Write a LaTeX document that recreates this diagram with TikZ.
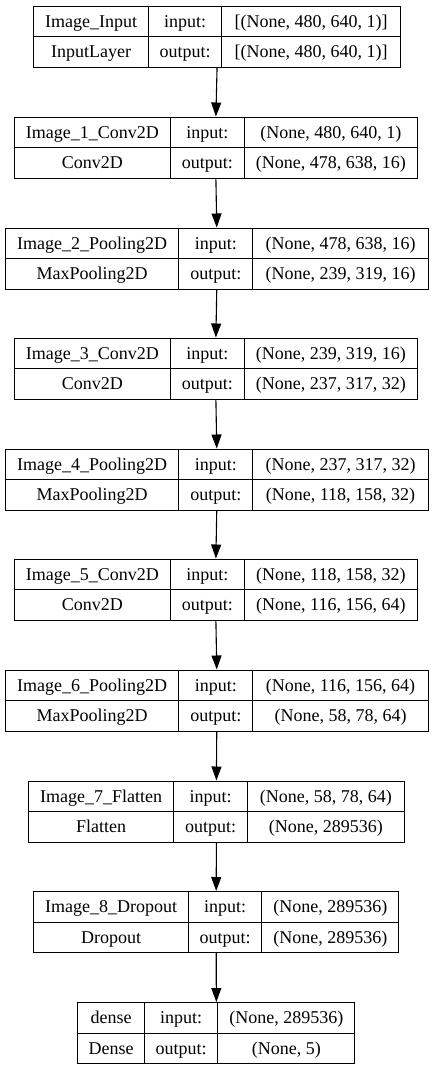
\documentclass[tikz,border=0pt]{standalone}
\usepackage{fontspec}
\setmainfont{Liberation Serif}
\usetikzlibrary{arrows.meta}
\tikzset{
  x=1pt, y=-1pt,
  cell/.style={draw=black, line width=1.1pt, inner sep=0pt, anchor=north west,
    font=\fontsize{18}{20}\selectfont, text height=16pt, text depth=4pt},
  layerbox/.style={inner sep=0pt, outer sep=0.55pt, anchor=north west},
  flow/.style={draw=black, line width=1.1pt, -{Triangle[length=14pt,width=10pt]}},
}
\newcommand\layershapes[2]{%
  \node[cell, minimum width={\curr-\curdb}, minimum height=30.5] (\curname-in) at (\curdb,\curtop) {#1};
  \node[cell, minimum width={\curr-\curdb}, minimum height=30.5] (\curname-out) at (\curdb,\curtop+30.5) {#2};
}
\newcommand\layer[9]{%
  % #1 name, #2 top, #3 left, #4 div1, #5 div2, #6 right, #7 layer, #8 class, #9 {in}{out}
  \def\curname{#1}\def\curtop{#2}\def\curda{#4}\def\curdb{#5}\def\curr{#6}%
  \node[layerbox, minimum width={#6-#3}, minimum height=61] (#1) at (#3,#2) {};
  \node[cell, minimum width={#4-#3}, minimum height=30.5] (#1-name) at (#3,#2) {#7};
  \node[cell, minimum width={#4-#3}, minimum height=30.5] (#1-class) at (#3,#2+30.5) {#8};
  \node[cell, minimum width={#5-#4}, minimum height=30.5] (#1-inl) at (#4,#2) {input:};
  \node[cell, minimum width={#5-#4}, minimum height=30.5] (#1-outl) at (#4,#2+30.5) {output:};
  \layershapes#9
}
\begin{document}
\begin{tikzpicture}
\useasboundingbox (0,0) rectangle (432,1069);
\layer{L0}{5.5}{33}{148}{221}{400}{Image\_Input}{InputLayer}{{[(None, 480, 640, 1)]}{[(None, 480, 640, 1)]}}
\layer{L1}{116.5}{13.7}{170}{243.7}{417}{Image\_1\_Conv2D}{Conv2D}{{(None, 480, 640, 1)}{(None, 478, 638, 16)}}
\layer{L2}{227.5}{4.7}{178.3}{252.3}{427.7}{Image\_2\_Pooling2D}{MaxPooling2D}{{(None, 478, 638, 16)}{(None, 239, 319, 16)}}
\layer{L3}{337.5}{13.7}{170}{243.7}{417}{Image\_3\_Conv2D}{Conv2D}{{(None, 239, 319, 16)}{(None, 237, 317, 32)}}
\layer{L4}{448.5}{4.7}{178.3}{252.3}{427.7}{Image\_4\_Pooling2D}{MaxPooling2D}{{(None, 237, 317, 32)}{(None, 118, 158, 32)}}
\layer{L5}{558.5}{13.7}{170}{243.7}{417}{Image\_5\_Conv2D}{Conv2D}{{(None, 118, 158, 32)}{(None, 116, 156, 64)}}
\layer{L6}{669.5}{4.7}{178.3}{252.3}{427.7}{Image\_6\_Pooling2D}{MaxPooling2D}{{(None, 116, 156, 64)}{(None, 58, 78, 64)}}
\layer{L7}{780.5}{27.7}{173.3}{246.7}{404}{Image\_7\_Flatten}{Flatten}{{(None, 58, 78, 64)}{(None, 289536)}}
\layer{L8}{891}{33}{188}{261.3}{398.3}{Image\_8\_Dropout}{Dropout}{{(None, 289536)}{(None, 289536)}}
\layer{L9}{1002}{77.3}{144}{217.3}{354.3}{dense}{Dense}{{(None, 289536)}{(None, 5)}}
\foreach \a/\b in {L0/L1,L1/L2,L2/L3,L3/L4,L4/L5,L5/L6,L6/L7,L7/L8,L8/L9}
  \draw[flow] (\a.south) -- (\b.north);
\end{tikzpicture}
\end{document}
